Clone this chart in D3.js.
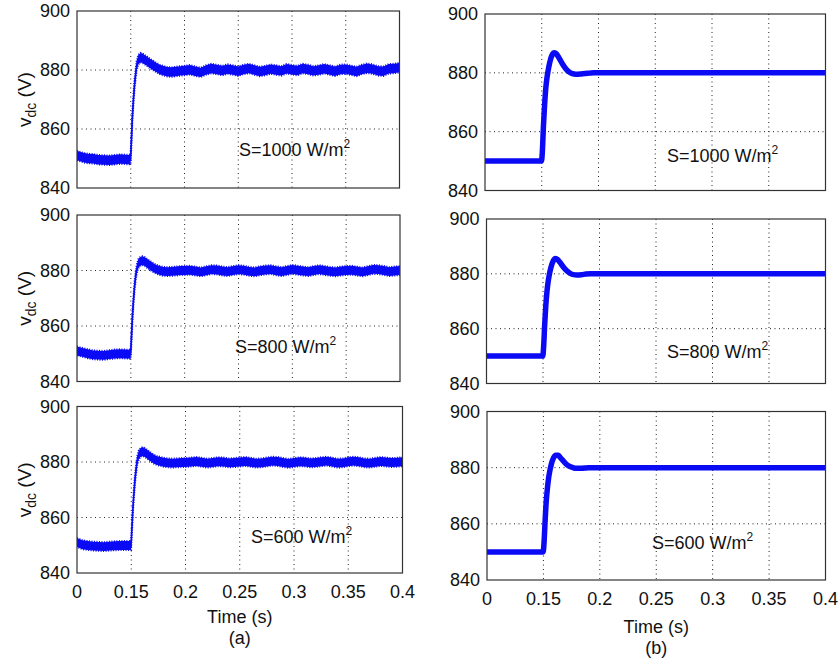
<!DOCTYPE html>
<html>
<head>
<meta charset="utf-8">
<script src="https://cdn.jsdelivr.net/npm/d3@7"></script>
<style>
  body { margin: 0; background: #fff; }
  text { font-family: "Liberation Sans", Arial, Helvetica, sans-serif; fill: #111; }
</style>
</head>
<body>
<svg id="chart" width="840" height="662"></svg>
<script>
// time axis (first tick labelled "0", the rest evenly spaced)
var tickValues = [0.1, 0.15, 0.2, 0.25, 0.3, 0.35, 0.4];
var tickLabels = ["0", "0.15", "0.2", "0.25", "0.3", "0.35", "0.4"];
var yTicks = [840, 860, 880, 900];
var irradiance = ["S=1000 W/m", "S=800 W/m", "S=600 W/m"];

// (a) measured-like traces, centre of the ripple band
var tA = [0.100,0.105,0.110,0.115,0.120,0.125,0.130,0.135,0.140,0.145,
  0.1498,0.1505,0.1515,0.1525,0.1535,0.1545,0.1555,0.157,0.159,0.161,0.163,0.165,
  0.168,0.171,0.174,0.177,0.180,0.184,0.188,0.192,0.196,0.200,
  0.205,0.210,0.215,0.220,0.225,0.230,0.235,0.240,0.245,0.250,
  0.255,0.260,0.265,0.270,0.275,0.280,0.285,0.290,0.295,0.300,
  0.305,0.310,0.315,0.320,0.325,0.330,0.335,0.340,0.345,0.350,
  0.355,0.360,0.365,0.370,0.375,0.380,0.385,0.390,0.395,0.400];
var vA1000 = [851.0,850.4,850.0,849.9,849.6,849.5,849.4,849.6,849.8,849.7,
  849.6,855,864,870,875,878.5,881.5,883.5,884.2,884.0,883.5,883.0,
  882.2,881.5,880.8,880.2,879.8,879.4,879.3,879.5,879.7,879.8,
  880.1,879.6,879.2,880.0,880.5,880.2,879.8,880.3,880.0,879.6,
  880.2,880.5,880.0,879.5,879.8,880.3,880.0,879.7,880.4,880.1,
  879.8,880.5,880.2,879.7,880.0,880.4,880.0,879.6,880.2,880.3,
  879.9,879.5,880.2,880.6,880.3,879.7,879.6,880.4,880.5,880.8];
var vA800 = [851.0,850.5,850.0,849.6,849.5,849.4,849.7,849.9,850.0,849.9,
  849.8,855,863.5,869.5,874.5,878,880.5,882.5,883.4,883.5,883.2,882.6,
  881.8,881.0,880.4,880.0,879.7,879.6,879.7,879.8,880.0,880.0,
  880.1,879.8,879.5,879.9,880.3,880.2,879.8,879.6,880.0,880.3,
  880.1,879.7,879.5,879.9,880.2,880.3,879.9,879.6,880.0,880.4,
  880.1,879.8,879.6,880.0,880.3,880.0,879.7,879.5,879.8,880.0,
  880.1,879.8,879.5,879.9,880.4,880.3,880.0,879.6,879.8,880.0];
var vA600 = [851.0,850.2,849.9,849.7,849.6,849.5,849.7,849.8,849.9,849.9,
  849.9,855,863,869,874,877.5,880.5,882.6,883.6,883.7,883.3,882.7,
  881.8,881.0,880.5,880.2,879.9,879.7,879.6,879.7,879.8,879.8,
  880.0,880.2,879.9,879.6,879.8,880.1,880.0,879.7,879.8,880.0,
  880.2,879.9,879.6,879.7,880.0,880.3,880.2,879.8,879.5,879.8,
  880.1,880.0,879.7,879.8,880.1,880.3,880.0,879.6,879.7,880.1,
  880.3,880.1,879.7,879.6,879.9,880.2,880.0,879.8,879.9,880.1];

// (b) simulated traces
var tB = [0.100,0.145,0.1498,0.1505,0.1515,0.1525,0.1535,0.1545,0.1555,0.157,
  0.159,0.161,0.163,0.165,0.168,0.171,0.174,0.177,0.180,0.184,
  0.188,0.192,0.196,0.200,0.250,0.300,0.350,0.400];
var vB1000 = [850,850,850,853,862,869,874.5,878,880.5,883.5,
  886,886.8,886.4,885.2,883.2,881.5,880.3,879.7,879.5,879.6,
  879.8,879.9,880,880,880,880,880,880];
var vB800 = [850,850,850,853,861.5,868.5,873.5,877,879.5,882.3,
  884.7,885.6,885.2,884.2,882.5,881.1,880.2,879.7,879.6,879.7,
  879.9,880,880,880,880,880,880,880];
var vB600 = [850,850,850,853,861,868,872.5,876,878.5,881.2,
  883.5,884.4,884.4,883.6,882.2,881,880.3,879.9,879.8,879.8,
  879.9,880,880,880,880,880,880,880];

var svg = d3.select("#chart");
var blue = "#0a0af5";

var panels = [
  {col: "a", t: tA, v: vA1000, lab: 0, x0: 77, x1: 399.5, y0: 11, y1: 188, lx: 0.2507, ly: 850.8},
  {col: "a", t: tA, v: vA800, lab: 1, x0: 77, x1: 400, y0: 215, y1: 381.5, lx: 0.2467, ly: 850.4},
  {col: "a", t: tA, v: vA600, lab: 2, x0: 77, x1: 402.5, y0: 406.5, y1: 573, lx: 0.2604, ly: 850.8, bottom: true},
  {col: "b", t: tB, v: vB1000, lab: 0, x0: 485, x1: 825.5, y0: 14, y1: 190.5, lx: 0.2603, ly: 849.7},
  {col: "b", t: tB, v: vB800, lab: 1, x0: 486.5, x1: 825.5, y0: 219, y1: 383.5, lx: 0.2597, ly: 849.3},
  {col: "b", t: tB, v: vB600, lab: 2, x0: 487, x1: 825.5, y0: 411.5, y1: 580, lx: 0.2462, ly: 851.0, bottom: true}
];

panels.forEach(function (p, k) {
  var x = d3.scaleLinear().domain([0.1, 0.4]).range([p.x0, p.x1]);
  var y = d3.scaleLinear().domain([840, 900]).range([p.y1, p.y0]);
  var g = svg.append("g");

  g.append("clipPath").attr("id", "clip" + k)
    .append("rect").attr("x", p.x0).attr("y", p.y0)
    .attr("width", p.x1 - p.x0).attr("height", p.y1 - p.y0);

  // dotted grid
  g.selectAll(".gx").data(tickValues.slice(1, -1)).enter().append("line")
    .attr("x1", function (d) { return x(d); }).attr("x2", function (d) { return x(d); })
    .attr("y1", p.y0).attr("y2", p.y1)
    .attr("stroke", "#222").attr("stroke-width", 1).attr("stroke-dasharray", "1,3.5");
  g.selectAll(".gy").data([860, 880]).enter().append("line")
    .attr("y1", function (d) { return y(d); }).attr("y2", function (d) { return y(d); })
    .attr("x1", p.x0).attr("x2", p.x1)
    .attr("stroke", "#222").attr("stroke-width", 1).attr("stroke-dasharray", "1,3.5");

  var pts = p.t.map(function (d, i) { return [d, p.v[i]]; });
  var plot = g.append("g").attr("clip-path", "url(#clip" + k + ")");
  if (p.col === "a") {
    // ripple band, edges dashed so they look ragged
    plot.append("path").datum(pts)
      .attr("d", d3.area()
        .x(function (d) { return x(d[0]); })
        .y0(function (d) { return y(d[1] - 1.6); })
        .y1(function (d) { return y(d[1] + 1.6); }))
      .attr("fill", blue)
      .attr("stroke", blue).attr("stroke-width", 2).attr("stroke-dasharray", "1,1.5");
    plot.append("path").datum(pts)
      .attr("d", d3.line().x(function (d) { return x(d[0]); }).y(function (d) { return y(d[1]); }))
      .attr("fill", "none").attr("stroke", blue).attr("stroke-width", 1.6);
  } else {
    plot.append("path").datum(pts)
      .attr("d", d3.line().curve(d3.curveMonotoneX)
        .x(function (d) { return x(d[0]); }).y(function (d) { return y(d[1]); }))
      .attr("fill", "none").attr("stroke", blue).attr("stroke-width", 5.5)
      .attr("stroke-linejoin", "round");
  }

  // frame
  g.append("rect").attr("x", p.x0).attr("y", p.y0)
    .attr("width", p.x1 - p.x0).attr("height", p.y1 - p.y0)
    .attr("fill", "none").attr("stroke", "#333").attr("stroke-width", 1.2);

  // y tick labels
  g.selectAll(".yt").data(yTicks).enter().append("text")
    .attr("x", p.x0 - 7).attr("y", function (d) { return y(d); })
    .attr("dy", "0.36em").attr("text-anchor", "end")
    .style("font-size", "18px").text(function (d) { return d; });

  // irradiance label
  var lt = g.append("text").attr("x", x(p.lx)).attr("y", y(p.ly)).style("font-size", "18px");
  lt.append("tspan").text(irradiance[p.lab]);
  lt.append("tspan").attr("dy", -8).style("font-size", "12px").text("2");

  if (p.col === "a") {
    var yl = g.append("text")
      .attr("transform", "translate(31," + ((p.y0 + p.y1) / 2) + ") rotate(-90)")
      .attr("text-anchor", "middle").style("font-size", "19px");
    yl.append("tspan").text("v");
    yl.append("tspan").attr("dy", 5).style("font-size", "14px").text("dc");
    yl.append("tspan").attr("dy", -5).text(" (V)");
  }

  if (p.bottom) {
    var off = p.col === "a" ? [25, 50, 71] : [25, 53, 74];
    g.selectAll(".xt").data(tickValues).enter().append("text")
      .attr("x", function (d) { return x(d); }).attr("y", p.y1 + off[0])
      .attr("text-anchor", "middle").style("font-size", "18px")
      .text(function (d, i) { return tickLabels[i]; });
    var cx = (p.x0 + p.x1) / 2;
    g.append("text").attr("x", cx).attr("y", p.y1 + off[1])
      .attr("text-anchor", "middle").style("font-size", "18px").text("Time (s)");
    g.append("text").attr("x", cx).attr("y", p.y1 + off[2])
      .attr("text-anchor", "middle").style("font-size", "18px").text("(" + p.col + ")");
  }
});
</script>
</body>
</html>
